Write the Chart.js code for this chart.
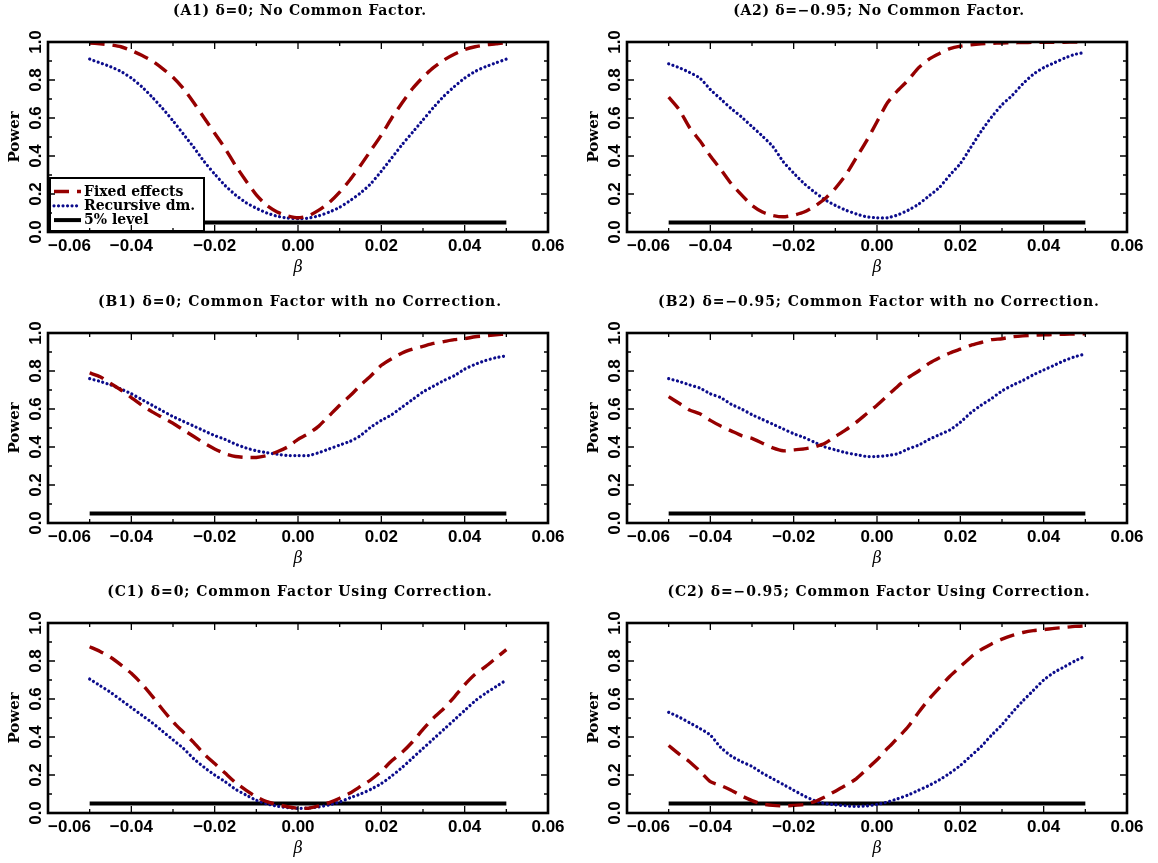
<!DOCTYPE html>
<html>
<head>
<meta charset="utf-8">
<title>Power curves</title>
<script src="https://cdn.jsdelivr.net/npm/chart.js@4.4.0/dist/chart.umd.min.js"></script>
<style>
  html, body { margin: 0; padding: 0; background: #fff; }
  #wrap { position: relative; width: 1158px; height: 863px; }
  #wrap canvas { position: absolute; }
</style>
</head>
<body>
<div id="wrap">
  <canvas id="a1" width="579" height="282" style="left:0;top:0"></canvas>
  <canvas id="a2" width="579" height="282" style="left:579px;top:0"></canvas>
  <canvas id="b1" width="579" height="282" style="left:0;top:291px"></canvas>
  <canvas id="b2" width="579" height="282" style="left:579px;top:291px"></canvas>
  <canvas id="c1" width="579" height="282" style="left:0;top:581px"></canvas>
  <canvas id="c2" width="579" height="282" style="left:579px;top:581px"></canvas>
</div>
<script>
// beta grid shared by every panel
var beta = [-0.05, -0.0475, -0.045, -0.0425, -0.04, -0.0375, -0.035, -0.0325, -0.03, -0.0275,
            -0.025, -0.0225, -0.02, -0.0175, -0.015, -0.0125, -0.01, -0.0075, -0.005, -0.0025,
            0, 0.0025, 0.005, 0.0075, 0.01, 0.0125, 0.015, 0.0175, 0.02, 0.0225,
            0.025, 0.0275, 0.03, 0.0325, 0.035, 0.0375, 0.04, 0.0425, 0.045, 0.0475, 0.05];

// (A1) delta=0, no common factor
var fixedA1 = [0.995, 0.99, 0.985, 0.975, 0.955, 0.93, 0.90, 0.86, 0.815, 0.755, 0.68, 0.60, 0.52, 0.44, 0.35, 0.27, 0.195, 0.14, 0.105, 0.085,
               0.075, 0.085, 0.115, 0.155, 0.21, 0.275, 0.35, 0.43, 0.51, 0.60, 0.68, 0.755, 0.815, 0.865, 0.905, 0.935, 0.96, 0.975, 0.985, 0.99, 0.997];
var recursiveA1 = [0.91, 0.89, 0.87, 0.845, 0.81, 0.765, 0.71, 0.65, 0.585, 0.515, 0.445, 0.37, 0.305, 0.245, 0.195, 0.155, 0.125, 0.10, 0.083, 0.073,
                   0.07, 0.073, 0.085, 0.105, 0.13, 0.165, 0.205, 0.255, 0.32, 0.39, 0.46, 0.525, 0.59, 0.655, 0.715, 0.765, 0.81, 0.845, 0.87, 0.89, 0.91];

// (A2) delta=-0.95, no common factor
var fixedA2 = [0.71, 0.645, 0.55, 0.48, 0.40, 0.33, 0.255, 0.195, 0.14, 0.105, 0.087, 0.08, 0.088, 0.105, 0.135, 0.175, 0.23, 0.30, 0.39, 0.48,
               0.58, 0.68, 0.745, 0.80, 0.865, 0.91, 0.94, 0.965, 0.978, 0.985, 0.99, 0.993, 0.995, 0.996, 0.997, 0.998, 0.998, 0.999, 0.999, 1.0, 1.0];
var recursiveA2 = [0.885, 0.865, 0.84, 0.81, 0.75, 0.70, 0.65, 0.605, 0.555, 0.505, 0.45, 0.37, 0.31, 0.255, 0.21, 0.17, 0.14, 0.115, 0.095, 0.08,
                   0.075, 0.075, 0.09, 0.115, 0.147, 0.19, 0.235, 0.30, 0.36, 0.445, 0.53, 0.605, 0.67, 0.72, 0.78, 0.83, 0.865, 0.89, 0.915, 0.935, 0.945];

// (B1) delta=0, common factor, no correction
var fixedB1 = [0.79, 0.77, 0.735, 0.70, 0.66, 0.62, 0.585, 0.555, 0.525, 0.49, 0.455, 0.42, 0.39, 0.365, 0.35, 0.345, 0.345, 0.355, 0.375, 0.40,
               0.44, 0.47, 0.51, 0.565, 0.62, 0.67, 0.725, 0.775, 0.83, 0.865, 0.895, 0.915, 0.93, 0.945, 0.955, 0.965, 0.97, 0.98, 0.985, 0.99, 0.995];
var recursiveB1 = [0.76, 0.745, 0.727, 0.705, 0.68, 0.65, 0.62, 0.59, 0.56, 0.535, 0.51, 0.485, 0.46, 0.44, 0.415, 0.395, 0.38, 0.37, 0.362, 0.355,
                   0.355, 0.355, 0.37, 0.39, 0.41, 0.43, 0.46, 0.505, 0.54, 0.57, 0.61, 0.65, 0.69, 0.72, 0.75, 0.775, 0.81, 0.835, 0.855, 0.87, 0.88];

// (B2) delta=-0.95, common factor, no correction
var fixedB2 = [0.665, 0.63, 0.595, 0.575, 0.54, 0.51, 0.485, 0.46, 0.445, 0.42, 0.395, 0.38, 0.385, 0.39, 0.40, 0.42, 0.455, 0.49, 0.53, 0.575,
               0.62, 0.67, 0.72, 0.765, 0.80, 0.84, 0.87, 0.895, 0.915, 0.935, 0.95, 0.965, 0.97, 0.98, 0.985, 0.988, 0.99, 0.992, 0.993, 0.995, 0.996];
var recursiveB2 = [0.76, 0.745, 0.727, 0.71, 0.68, 0.66, 0.625, 0.60, 0.57, 0.545, 0.52, 0.495, 0.47, 0.45, 0.425, 0.40, 0.385, 0.37, 0.36, 0.35,
                   0.35, 0.355, 0.365, 0.39, 0.41, 0.44, 0.465, 0.49, 0.53, 0.58, 0.62, 0.655, 0.695, 0.725, 0.75, 0.78, 0.805, 0.83, 0.855, 0.875, 0.89];

// (C1) delta=0, common factor using correction
var fixedC1 = [0.875, 0.85, 0.82, 0.78, 0.735, 0.68, 0.615, 0.545, 0.48, 0.425, 0.37, 0.31, 0.26, 0.21, 0.16, 0.12, 0.085, 0.06, 0.045, 0.033,
               0.025, 0.025, 0.037, 0.055, 0.078, 0.105, 0.14, 0.175, 0.22, 0.275, 0.32, 0.375, 0.44, 0.50, 0.55, 0.61, 0.675, 0.73, 0.77, 0.815, 0.86];
var recursiveC1 = [0.705, 0.67, 0.635, 0.595, 0.555, 0.515, 0.475, 0.43, 0.385, 0.34, 0.285, 0.24, 0.20, 0.165, 0.125, 0.095, 0.067, 0.048, 0.036, 0.028,
                   0.024, 0.026, 0.032, 0.043, 0.058, 0.08, 0.10, 0.125, 0.155, 0.195, 0.24, 0.29, 0.34, 0.39, 0.44, 0.49, 0.54, 0.59, 0.63, 0.665, 0.70];

// (C2) delta=-0.95, common factor using correction
var fixedC2 = [0.355, 0.31, 0.27, 0.22, 0.165, 0.145, 0.12, 0.09, 0.065, 0.047, 0.04, 0.037, 0.04, 0.045, 0.06, 0.085, 0.115, 0.145, 0.18, 0.23,
               0.28, 0.34, 0.395, 0.455, 0.53, 0.60, 0.66, 0.72, 0.77, 0.82, 0.86, 0.89, 0.915, 0.935, 0.95, 0.96, 0.965, 0.972, 0.977, 0.982, 0.985];
var recursiveC2 = [0.53, 0.505, 0.475, 0.445, 0.41, 0.345, 0.30, 0.27, 0.245, 0.21, 0.18, 0.15, 0.12, 0.09, 0.065, 0.05, 0.043, 0.038, 0.035, 0.037,
                   0.045, 0.058, 0.075, 0.095, 0.12, 0.145, 0.175, 0.21, 0.25, 0.30, 0.35, 0.41, 0.465, 0.53, 0.59, 0.645, 0.70, 0.74, 0.77, 0.80, 0.825];

// 5% level reference line
var levelBeta = [-0.05, 0.05];
var levelPower = [0.05, 0.05];

// x and y tick labels
var xTickValues = [-0.06, -0.04, -0.02, 0, 0.02, 0.04, 0.06];
var xTickLabels = ['\u22120.06', '\u22120.04', '\u22120.02', '0.00', '0.02', '0.04', '0.06'];
var yTickValues = [0, 0.2, 0.4, 0.6, 0.8, 1.0];
var yTickLabels = ['0.0', '0.2', '0.4', '0.6', '0.8', '1.0'];

var RED = '#960000';
var BLUE = '#0c0c8c';

function pairs(xs, ys) {
    return xs.map(function (b, i) { return { x: b, y: ys[i] }; });
}

// frame, inward ticks, rotated y labels, title and the boxed legend (IDL look)
var framePlugin = {
    id: 'frame',
    afterDraw: function (chart, args, opts) {
        var ctx = chart.ctx, a = chart.chartArea;
        var xs = chart.scales.x, ys = chart.scales.y;
        ctx.save();

        if (opts.legend) {
            var bx = a.left + 2, by = a.bottom - 54, bw = 154, bh = 53;
            ctx.fillStyle = '#fff';
            ctx.fillRect(bx, by, bw, bh);
            ctx.strokeStyle = '#000';
            ctx.lineWidth = 2;
            ctx.strokeRect(bx, by, bw, bh);
            ctx.font = 'bold 14px "DejaVu Serif"';
            ctx.textAlign = 'left';
            ctx.textBaseline = 'middle';
            chart.data.datasets.forEach(function (ds, i) {
                var ry = by + 13.5 + i * 14.3;
                ctx.save();
                ctx.strokeStyle = ds.borderColor;
                ctx.lineWidth = ds.borderWidth;
                ctx.lineCap = ds.borderCapStyle || 'butt';
                ctx.setLineDash(ds.borderDash || []);
                ctx.beginPath();
                ctx.moveTo(bx + 4, ry);
                ctx.lineTo(bx + 31, ry);
                ctx.stroke();
                ctx.restore();
                ctx.fillStyle = '#000';
                ctx.fillText(ds.label, bx + 34, ry + 0.5);
            });
        }

        ctx.strokeStyle = '#000';
        ctx.fillStyle = '#000';
        ctx.setLineDash([]);

        // minor/major ticks pointing inwards on all four sides
        ctx.lineWidth = 1.3;
        ctx.beginPath();
        xs.ticks.forEach(function (t) {
            var px = xs.getPixelForValue(t.value);
            var len = Math.round(t.value * 100) % 2 === 0 ? 7 : 4;
            ctx.moveTo(px, a.bottom); ctx.lineTo(px, a.bottom - len);
            ctx.moveTo(px, a.top); ctx.lineTo(px, a.top + len);
        });
        ys.ticks.forEach(function (t) {
            var py = ys.getPixelForValue(t.value);
            var len = Math.round(t.value * 10) % 2 === 0 ? 7 : 4;
            ctx.moveTo(a.left, py); ctx.lineTo(a.left + len, py);
            ctx.moveTo(a.right, py); ctx.lineTo(a.right - len, py);
        });
        ctx.stroke();

        ctx.lineWidth = 2.6;
        ctx.strokeRect(a.left, a.top, a.right - a.left, a.bottom - a.top);

        // tick labels
        ctx.font = 'bold 17px "Liberation Sans"';
        ctx.textBaseline = 'middle';
        xTickValues.forEach(function (v, i) {
            ctx.textAlign = i === 0 ? 'left' : 'center';
            ctx.fillText(xTickLabels[i], xs.getPixelForValue(v), a.bottom + 14);
        });
        yTickValues.forEach(function (v, i) {
            ctx.save();
            ctx.translate(a.left - 12, ys.getPixelForValue(v));
            ctx.rotate(-Math.PI / 2);
            ctx.textAlign = 'center';
            ctx.fillText(yTickLabels[i], 0, 0);
            ctx.restore();
        });

        // panel title, spread out like the original fixed-pitch font
        ctx.font = 'bold 14px "DejaVu Serif"';
        var n = Array.from(opts.title).length;
        var natural = ctx.measureText(opts.title).width;
        ctx.letterSpacing = ((n * 9.4 - natural) / n).toFixed(2) + 'px';
        ctx.textAlign = 'center';
        ctx.fillText(opts.title, (a.left + a.right) / 2 + 2, 11);
        ctx.letterSpacing = '0px';

        ctx.restore();
    }
};

function makePanel(id, title, fixed, recursive, showLegend) {
    return new Chart(document.getElementById(id), {
        type: 'line',
        data: {
            datasets: [{
                label: 'Fixed effects',
                data: pairs(beta, fixed),
                borderColor: RED,
                borderWidth: 3.4,
                borderDash: [15, 8]
            }, {
                label: 'Recursive dm.',
                data: pairs(beta, recursive),
                borderColor: BLUE,
                borderWidth: 3.2,
                borderDash: [0.01, 4.5],
                borderCapStyle: 'round'
            }, {
                label: '5% level',
                data: pairs(levelBeta, levelPower),
                borderColor: '#000',
                borderWidth: 4
            }]
        },
        options: {
            responsive: false,
            animation: false,
            layout: { padding: { top: 42, right: 31, bottom: 0, left: 0 } },
            elements: {
                point: { radius: 0 },
                line: { tension: 0.2, fill: false }
            },
            plugins: {
                legend: { display: false },
                tooltip: { enabled: false },
                frame: { title: title, legend: showLegend }
            },
            scales: {
                x: {
                    type: 'linear',
                    min: -0.06,
                    max: 0.06,
                    ticks: { display: false, stepSize: 0.01 },
                    grid: { display: false },
                    border: { display: false },
                    title: {
                        display: true,
                        text: '\u03b2',
                        color: '#000',
                        font: { family: 'DejaVu Serif', style: 'italic', size: 16 },
                        padding: { top: 0, bottom: 5 }
                    },
                    afterFit: function (s) { s.height = 50; }
                },
                y: {
                    min: 0,
                    max: 1,
                    ticks: { display: false, stepSize: 0.1 },
                    grid: { display: false },
                    border: { display: false },
                    title: {
                        display: true,
                        text: 'Power',
                        color: '#000',
                        font: { family: 'DejaVu Serif', weight: 'bold', size: 15 },
                        padding: { top: 6, bottom: 0 }
                    },
                    afterFit: function (s) { s.width = 48; }
                }
            }
        },
        plugins: [framePlugin]
    });
}

makePanel('a1', '(A1) \u03b4=0; No Common Factor.', fixedA1, recursiveA1, true);
makePanel('a2', '(A2) \u03b4=\u22120.95; No Common Factor.', fixedA2, recursiveA2, false);
makePanel('b1', '(B1) \u03b4=0; Common Factor with no Correction.', fixedB1, recursiveB1, false);
makePanel('b2', '(B2) \u03b4=\u22120.95; Common Factor with no Correction.', fixedB2, recursiveB2, false);
makePanel('c1', '(C1) \u03b4=0; Common Factor Using Correction.', fixedC1, recursiveC1, false);
makePanel('c2', '(C2) \u03b4=\u22120.95; Common Factor Using Correction.', fixedC2, recursiveC2, false);
</script>
</body>
</html>
